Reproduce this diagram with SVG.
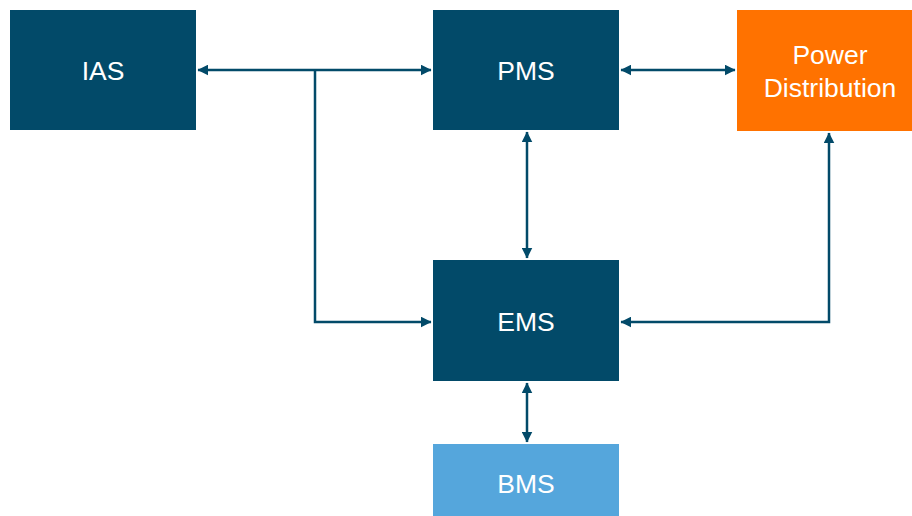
<svg xmlns="http://www.w3.org/2000/svg" width="912" height="516" viewBox="0 0 912 516">
  <style>
    .navy { fill: #024a69; }
    .orange { fill: #ff7200; }
    .light { fill: #55a6dc; }
    .label { font-family: "Liberation Sans", Arial, sans-serif; font-size: 26.5px; fill: #ffffff; text-anchor: middle; dominant-baseline: central; }
    .link { fill: none; stroke: #024a69; stroke-width: 2.5; }
  </style>
  <defs>
    <marker id="arrow" viewBox="0 0 10 10" refX="9.5" refY="5" markerWidth="4.4" markerHeight="4.4" orient="auto-start-reverse" markerUnits="strokeWidth">
      <path d="M0,0 L10,5 L0,10 Z" fill="#024a69"/>
    </marker>
  </defs>
  <rect width="912" height="516" fill="#ffffff"/>

  <g id="connectors">
    <path class="link" d="M198,70 H431" marker-start="url(#arrow)" marker-end="url(#arrow)"/>
    <path class="link" d="M315,70 V322 H431" marker-end="url(#arrow)"/>
    <path class="link" d="M621,70 H735" marker-start="url(#arrow)" marker-end="url(#arrow)"/>
    <path class="link" d="M527,132 V258" marker-start="url(#arrow)" marker-end="url(#arrow)"/>
    <path class="link" d="M829,133 V322 H621" marker-start="url(#arrow)" marker-end="url(#arrow)"/>
    <path class="link" d="M527,383 V442" marker-start="url(#arrow)" marker-end="url(#arrow)"/>
  </g>

  <g id="ias">
    <rect class="navy" x="10" y="10" width="186" height="120"/>
    <text class="label" x="103" y="71">IAS</text>
  </g>
  <g id="pms">
    <rect class="navy" x="433" y="10" width="186" height="120"/>
    <text class="label" x="526" y="71">PMS</text>
  </g>
  <g id="power-distribution">
    <rect class="orange" x="737" y="10" width="186" height="121"/>
    <text class="label" x="830" y="55">Power</text>
    <text class="label" x="830" y="88">Distribution</text>
  </g>
  <g id="ems">
    <rect class="navy" x="433" y="260" width="186" height="121"/>
    <text class="label" x="526" y="322">EMS</text>
  </g>
  <g id="bms">
    <rect class="light" x="433" y="444" width="186" height="80"/>
    <text class="label" x="526" y="484">BMS</text>
  </g>
</svg>
